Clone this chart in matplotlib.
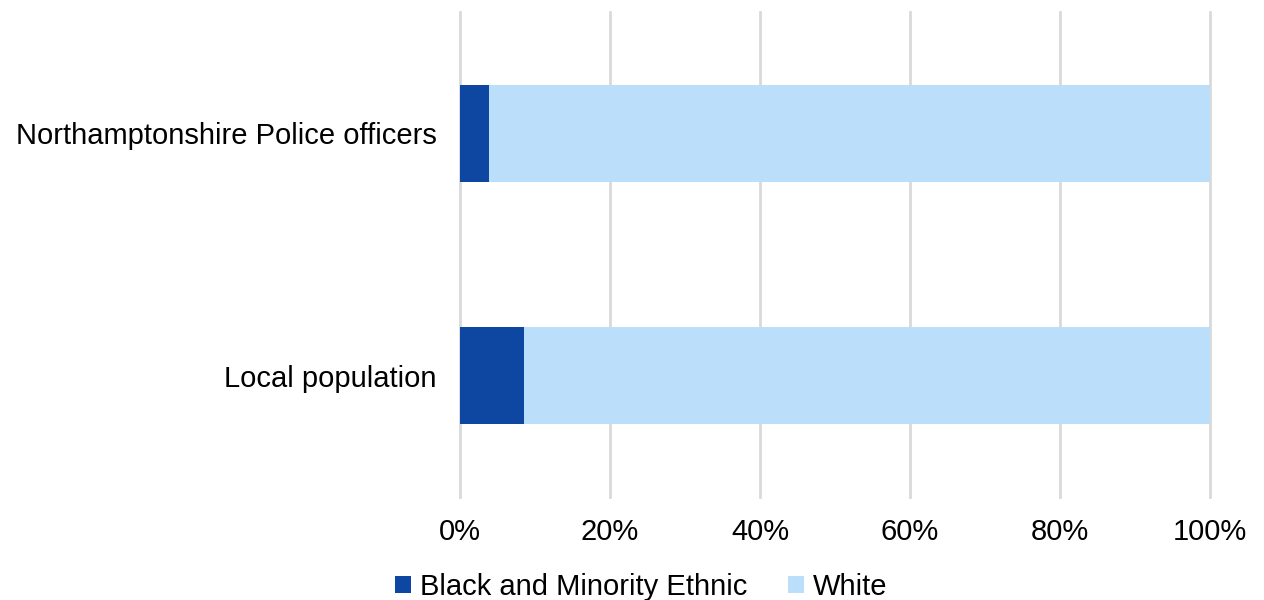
import matplotlib
matplotlib.use("Agg")
import matplotlib.pyplot as plt
from matplotlib.ticker import FuncFormatter

categories = ["Local population", "Northamptonshire Police officers"]
bme = [8.5, 3.9]
white = [91.5, 96.1]
series_names = ["Black and Minority Ethnic", "White"]
colors = ["#0D47A1", "#BBDEFB"]
xticks = [0, 20, 40, 60, 80, 100]

plt.rcParams["font.family"] = ["Liberation Sans", "DejaVu Sans"]
fig = plt.figure(figsize=(12.64, 6), dpi=100)
ax = fig.add_axes([460/1264, 1-497/600, 750/1264, 485/600])

y = range(len(categories))
b1 = ax.barh(y, bme, height=0.4, color=colors[0], label=series_names[0], zorder=3)
b2 = ax.barh(y, white, left=bme, height=0.4, color=colors[1], label=series_names[1], zorder=3)

ax.set_xlim(0, 100)
ax.set_ylim(-0.5, 1.5)
ax.set_xticks(xticks)
ax.xaxis.set_major_formatter(FuncFormatter(lambda v, p: f"{int(v)}%"))
ax.set_yticks(list(y))
ax.set_yticklabels(categories)
ax.tick_params(axis="both", length=0, labelsize=21, colors="#000000")
ax.tick_params(axis="x", pad=15)
ax.tick_params(axis="y", pad=17)
ax.grid(axis="x", color="#D9D9D9", linewidth=2, zorder=0)
for gl in ax.get_xgridlines():
    gl.set_clip_on(False)
for s in ax.spines.values():
    s.set_visible(False)

fig.legend(handles=[b1, b2], labels=series_names, loc="center",
           bbox_to_anchor=(641/1264, 13/600), ncol=2, frameon=False,
           fontsize=21, handlelength=0.55, handleheight=0.55,
           handletextpad=0.3, columnspacing=1.4, borderaxespad=0)

fig.savefig("out.png", dpi=100)
